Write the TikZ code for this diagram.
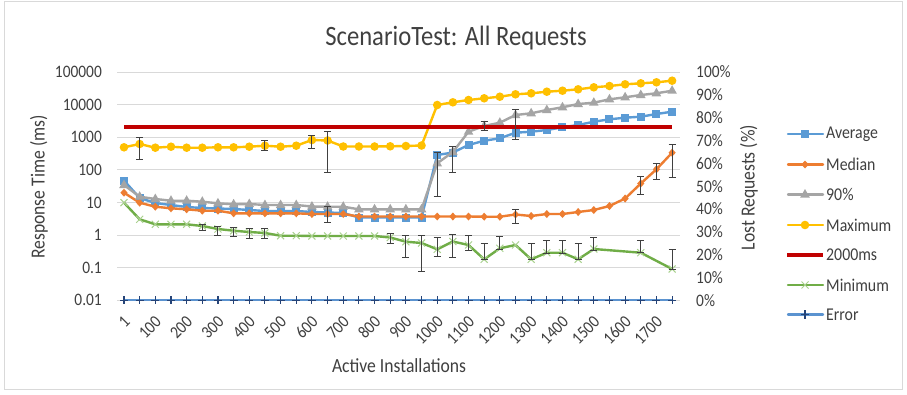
\documentclass[tikz,border=0pt]{standalone}
\usepackage{fontspec}
\setmainfont{Carlito}[FakeStretch=0.88]
\definecolor{avgc}{HTML}{5B9BD5}
\definecolor{medc}{HTML}{ED7D31}
\definecolor{gryc}{HTML}{A5A5A5}
\definecolor{maxc}{HTML}{FFC000}
\definecolor{redc}{HTML}{C00000}
\definecolor{minc}{HTML}{70AD47}
\definecolor{minm}{HTML}{A9D18E}
\definecolor{errl}{HTML}{5B93D0}
\definecolor{errm}{HTML}{264478}
\definecolor{gridc}{HTML}{D9D9D9}
\definecolor{txtc}{HTML}{404040}
\definecolor{barc}{HTML}{404040}
\newcommand\XX[1]{124+15.66*#1}
\def\avgdata{0/180.5,1/198,2/203,3/205,4/207,5/208,6/208.5,7/209,8/210,9/211,10/211,11/211,12/212,13/212.5,14/213,15/217.5,16/217.5,17/217.5,18/217.5,19/217.5,20/155,21/152.5,22/145,23/140.7,24/138.3,25/132.7,26/131.7,27/130,28/127.3,29/125,30/121.7,31/119.3,32/117.7,33/116.7,34/114,35/111.7}
\def\meddata{0/192.7,1/202.7,2/206.7,3/208.3,4/209.3,5/210.7,6/210.7,7/213.3,8/213.3,9/213.3,10/213.3,11/213.3,12/214,13/214,14/214,15/216.5,16/216.5,17/216.5,18/216.5,19/216.5,20/216.5,21/216.5,22/216.5,23/216.7,24/216.7,25/214.5,26/216,27/214,28/214,29/212,30/210,31/206,32/198.5,33/183.5,34/169.3,35/152.7}
\def\grydata{0/185,1/196.7,2/199,3/200.7,4/200.7,5/201.7,6/203.3,7/204.3,8/204,9/205,10/205,11/205,12/206.5,13/206.7,14/206.7,15/209.3,16/209.3,17/209.3,18/209.3,19/209.3,20/163.3,21/152,22/131.7,23/126,24/122.7,25/115,26/113.3,27/110,28/107.3,29/104,30/102.7,31/99.3,32/97.3,33/95,34/93.3,35/90.7}
\def\maxdata{0/147.3,1/144,2/147.7,3/146.7,4/147.7,5/147.7,6/147.3,7/147.3,8/146.7,9/145.7,10/146.7,11/145.7,12/140,13/140.5,14/146.5,15/146.5,16/146.5,17/146.3,18/146,19/145.5,20/105,21/102.3,22/100,23/98.3,24/96.7,25/94.3,26/93.3,27/91.7,28/90.7,29/89.3,30/87.3,31/86,32/84.3,33/83.3,34/82.3,35/80.7}
\def\mindata{0/202.7,1/219.3,2/224.3,3/224.3,4/224.3,5/226,6/229,7/230.7,8/232,9/233,10/235.7,11/235.7,12/236,13/236,14/236,15/236,16/236,17/237.5,18/241.7,19/243,20/249.3,21/241.5,22/245,23/259.3,24/248.3,25/245,26/259.3,27/252.7,28/252.7,29/259.3,30/249,33/252.7,35/269}
\def\bardata{1/137.3/159.3,9/140.7/150,12/135/148.3,13/131.7/172.7,20/152.7/196.7,21/146/172.7,23/121.7/130,25/109.3/139.3,13/206.7/222.7,25/209.3/223.3,33/176.7/194,34/163.3/179.3,35/144/177.7,5/224.3/230,6/226.7/235,7/227.3/236.7,8/228.3/238.3,9/228.3/238.3,17/233.3/243.3,18/235/257.3,19/235/271.7,20/237.3/256.7,21/234.3/257.3,22/235.7/250,23/243.3/259.3,24/236.7/249.3,26/243.3/259.3,27/240/253.3,28/240/253.3,29/243.3/259.3,30/237.3/250,33/240/252.7,35/249.3/269.3}
\tikzset{
  series/.style={line width=2.4pt,line join=round,line cap=round},
  ticklab/.style={text=txtc,font=\fontsize{17.5}{20}\selectfont,inner sep=0pt},
  axtitle/.style={text=txtc,font=\fontsize{20}{24}\selectfont,inner sep=0pt},
  leglab/.style={text=txtc,font=\fontsize{18}{22}\selectfont,inner sep=0pt,anchor=west},
  ebar/.style={draw=barc,line width=1pt},
  gridl/.style={draw=gridc,line width=1pt}
}
\begin{document}
\begin{tikzpicture}[x=1pt,y=-1pt]
\useasboundingbox (0,0) rectangle (907,394);
\fill[white] (0,0) rectangle (907,394);
\draw[gridc,line width=0.8pt] (4.5,1.5) rectangle (902.5,389);
% title
\node[text=txtc,font=\fontsize{28}{32}\selectfont,inner sep=0pt] (title) at (456,38) {ScenarioTest: All Requests};
% gridlines and left labels
\foreach \lab [count=\k from 0] in {0.01,0.1,1,10,100,1000,10000,100000} {
  \draw[gridl] (117,{300.2-32.6*\k}) -- (680,{300.2-32.6*\k});
  \node[ticklab,anchor=east] (yl\k) at (102,{300.2-32.6*\k}) {\lab};
}
% right labels
\foreach \lab [count=\k from 0] in {0\%,10\%,20\%,30\%,40\%,50\%,60\%,70\%,80\%,90\%,100\%} {
  \node[ticklab,anchor=west] (yr\k) at (696,{300.2-22.82*\k}) {\lab};
}
% x labels
\foreach \lab [count=\k from 0] in {1,100,200,300,400,500,600,700,800,900,1000,1100,1200,1300,1400,1500,1600,1700} {
  \node[ticklab,anchor=east,rotate=45] (xl\k) at ({\XX{2*\k}+3},319) {\lab};
}
% axis titles
\node[axtitle] (xtitle) at (399,366) {Active Installations};
\node[axtitle,rotate=90] (ytitle) at (39,187) {Response Time (ms)};
\node[axtitle,rotate=90] (y2title) at (749,187.5) {Lost Requests (\%)};
% Average
\draw[series,avgc] (124,180.5) \foreach \i/\y in \avgdata {-- ({\XX{\i}},\y)};
\foreach \i/\y in \avgdata {\fill[avgc] ({\XX{\i}-4},{\y-4}) rectangle ++(8,8);}
% Median
\draw[series,medc] (124,192.7) \foreach \i/\y in \meddata {-- ({\XX{\i}},\y)};
\foreach \i/\y in \meddata {\fill[medc] ({\XX{\i}},{\y-4}) -- ++(3.6,4) -- ++(-3.6,4) -- ++(-3.6,-4) -- cycle;}
% 90%
\draw[series,gryc] (124,185) \foreach \i/\y in \grydata {-- ({\XX{\i}},\y)};
\foreach \i/\y in \grydata {\fill[gryc] ({\XX{\i}},{\y-5.5}) -- ++(4.8,8.5) -- ++(-9.6,0) -- cycle;}
% Maximum
\draw[series,maxc] (124,147.3) \foreach \i/\y in \maxdata {-- ({\XX{\i}},\y)};
\foreach \i/\y in \maxdata {\fill[maxc] ({\XX{\i}},\y) circle (4.3);}
% 2000ms
\draw[redc,line width=4pt] (124,127.4) -- (672.1,127.4);
% Minimum
\draw[series,minc] (124,202.7) \foreach \i/\y in \mindata {-- ({\XX{\i}},\y)};
\foreach \i/\y in \mindata {\draw[minm,line width=1pt] ({\XX{\i}-3.5},{\y-3.5}) -- ++(7,7) ({\XX{\i}-3.5},{\y+3.5}) -- ++(7,-7);}
% Error
\draw[series,errl] (124,300.2) -- (672.1,300.2);
\foreach \i in {0,...,35} {\draw[errm,line width=1.1pt] ({\XX{\i}-4},300.2) -- ++(8,0) ({\XX{\i}},296) -- ++(0,8.4);}
% error bars
\foreach \i/\a/\b in \bardata {\draw[ebar] ({\XX{\i}},\a) -- ({\XX{\i}},\b) ({\XX{\i}-3.5},\a) -- ++(7,0) ({\XX{\i}-3.5},\b) -- ++(7,0);}
% legend
\draw[series,avgc] (788,134) -- (823,134);
\fill[avgc] (801,130) rectangle ++(8,8);
\node[leglab] (lg1) at (826,134) {Average};
\draw[series,medc] (788,164.5) -- (823,164.5);
\fill[medc] (805,160.5) -- ++(3.6,4) -- ++(-3.6,4) -- ++(-3.6,-4) -- cycle;
\node[leglab] (lg2) at (826,164.5) {Median};
\draw[series,gryc] (788,194.5) -- (823,194.5);
\fill[gryc] (805,189) -- ++(4.8,8.5) -- ++(-9.6,0) -- cycle;
\node[leglab] (lg3) at (826,194.5) {90\%};
\draw[series,maxc] (788,225) -- (823,225);
\fill[maxc] (805,225) circle (4.3);
\node[leglab] (lg4) at (826,225) {Maximum};
\draw[redc,line width=4pt] (787,254.5) -- (823,254.5);
\node[leglab] (lg5) at (826,254.5) {2000ms};
\draw[series,minc] (788,285) -- (823,285);
\draw[minm,line width=1pt] (801.5,281.5) -- ++(7,7) (801.5,288.5) -- ++(7,-7);
\node[leglab] (lg6) at (826,285) {Minimum};
\draw[series,errl] (788,314.5) -- (823,314.5);
\draw[errm,line width=1.1pt] (801,314.5) -- ++(8,0) (805,310.3) -- ++(0,8.4);
\node[leglab] (lg7) at (826,314.5) {Error};
\end{tikzpicture}
\end{document}
